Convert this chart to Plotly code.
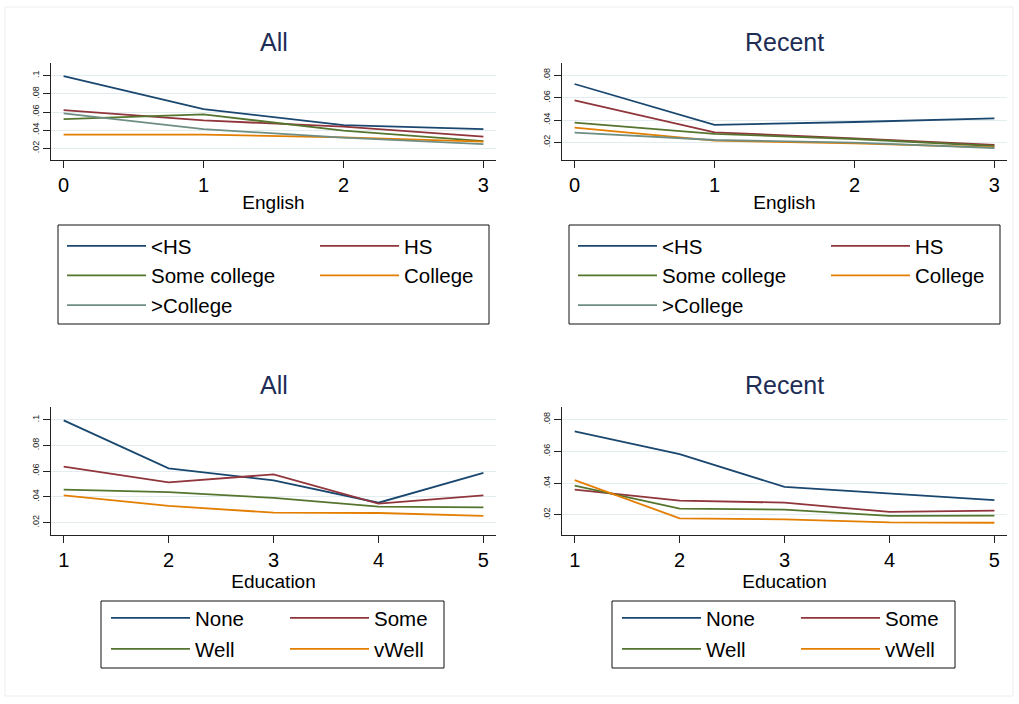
import plotly.graph_objects as go

W, H = 1019, 704

english = [0, 1, 2, 3]
education = [1, 2, 3, 4, 5]

eng_series = ["<HS", "HS", "Some college", "College", ">College"]
all_eng = {
    "<HS": [0.0995, 0.0632, 0.0456, 0.0412],
    "HS": [0.0621, 0.0508, 0.0438, 0.0328],
    "Some college": [0.0522, 0.0574, 0.0394, 0.0280],
    "College": [0.0350, 0.0350, 0.0320, 0.0273],
    ">College": [0.0585, 0.0412, 0.0317, 0.0247],
}
recent_eng = {
    "<HS": [0.0725, 0.0358, 0.0383, 0.0416],
    "HS": [0.0578, 0.0290, 0.0236, 0.0176],
    "Some college": [0.0377, 0.0277, 0.0230, 0.0167],
    "College": [0.0332, 0.0215, 0.0190, 0.0155],
    ">College": [0.0287, 0.0221, 0.0197, 0.0149],
}

edu_series = ["None", "Some", "Well", "vWell"]
all_edu = {
    "None": [0.0995, 0.0622, 0.0529, 0.0355, 0.0586],
    "Some": [0.0635, 0.0513, 0.0575, 0.0348, 0.0412],
    "Well": [0.0456, 0.0438, 0.0392, 0.0324, 0.0319],
    "vWell": [0.0412, 0.0330, 0.0278, 0.0275, 0.0252],
}
recent_edu = {
    "None": [0.0726, 0.0583, 0.0377, 0.0337, 0.0293],
    "Some": [0.0360, 0.0290, 0.0278, 0.0219, 0.0227],
    "Well": [0.0385, 0.0240, 0.0234, 0.0194, 0.0196],
    "vWell": [0.0419, 0.0179, 0.0173, 0.0154, 0.0151],
}

ytick_all = [0.02, 0.04, 0.06, 0.08, 0.1]
ytick_all_text = [".02", ".04", ".06", ".08", ".1"]
ytick_rec = [0.02, 0.04, 0.06, 0.08]
ytick_rec_text = [".02", ".04", ".06", ".08"]

colors = ["#1a476f", "#90353b", "#55752f", "#e37e00", "#6e8e84"]

FONT = "Liberation Sans, Arial, sans-serif"

def px_x(p):
    return p / W

def px_y(p):
    return 1 - p / H

fig = go.Figure()

panels = [
    ("", all_eng, eng_series, english),
    ("2", recent_eng, eng_series, english),
    ("3", all_edu, edu_series, education),
    ("4", recent_edu, edu_series, education),
]

for pi, (suf, data, series, xs) in enumerate(panels):
    for si, name in enumerate(series):
        col = si % 2
        k = pi * 2 + col
        legname = "legend" + (str(k + 1) if k > 0 else "")
        fig.add_trace(go.Scatter(
            x=xs, y=data[name], name=name, mode="lines",
            line=dict(color=colors[si], width=1.8),
            xaxis="x" + suf, yaxis="y" + suf,
            legend=legname, legendgroup=f"p{pi}s{si}",
            hoverinfo="x+y+name",
        ))

def xaxis_cfg(dom, rng, tickvals, title, anchor):
    return dict(
        domain=dom, range=rng, tickvals=tickvals, ticktext=[str(v) for v in tickvals],
        showline=True, linecolor="#222", linewidth=1, mirror=False,
        ticks="outside", ticklen=7, tickcolor="#222", tickwidth=1,
        showgrid=False, zeroline=False, anchor=anchor,
        tickfont=dict(family=FONT, size=20, color="#000"),
        title=dict(text=title, font=dict(family=FONT, size=19, color="#000"), standoff=0),
    )

def yaxis_cfg(dom, rng, tv, tt, anchor):
    return dict(
        domain=dom, range=rng, tickvals=tv, ticktext=tt, tickangle=-90,
        showline=True, linecolor="#222", linewidth=1,
        ticks="outside", ticklen=7, tickcolor="#222", tickwidth=1,
        showgrid=True, gridcolor="#e3edf0", gridwidth=1, zeroline=False, anchor=anchor,
        tickfont=dict(family=FONT, size=9, color="#222"),
    )

xl = [px_x(51), px_x(496)]
xr = [px_x(562), px_x(1007)]
yt = [px_y(160), px_y(63)]
yb = [px_y(535), px_y(407)]

fig.update_layout(
    xaxis=xaxis_cfg(xl, [-0.09, 3.09], english, "English", "y"),
    yaxis=yaxis_cfg(yt, [0.0071, 0.114], ytick_all, ytick_all_text, "x"),
    xaxis2=xaxis_cfg(xr, [-0.09, 3.09], english, "English", "y2"),
    yaxis2=yaxis_cfg(yt, [0.0041, 0.0914], ytick_rec, ytick_rec_text, "x2"),
    xaxis3=xaxis_cfg(xl, [0.879, 5.12], education, "Education", "y3"),
    yaxis3=yaxis_cfg(yb, [0.0104, 0.1099], ytick_all, ytick_all_text, "x3"),
    xaxis4=xaxis_cfg(xr, [0.879, 5.12], education, "Education", "y4"),
    yaxis4=yaxis_cfg(yb, [0.0074, 0.088], ytick_rec, ytick_rec_text, "x4"),
)

# Legends: two vertical columns per panel, inside a framed box
leg_common = dict(orientation="v", bgcolor="rgba(0,0,0,0)", borderwidth=0,
                  font=dict(family=FONT, size=20.5, color="#000"), itemwidth=79,
                  xanchor="left", yanchor="top", traceorder="grouped")
# box x0, y0, x1, y1, col1 x, col2 x, group gap, legend top
leg_boxes = [
    (58, 225, 489, 324, 62, 315, 0, 226),
    (569, 225, 1000, 324, 573, 826, 0, 226),
    (101, 601, 444, 668, 106, 285, 1.5, 598),
    (612, 601, 955, 668, 617, 796, 1.5, 598),
]
layout_leg = {}
for pi, (x0, y0, x1, y1, c1, c2, gap, ly) in enumerate(leg_boxes):
    for col, cx in enumerate([c1, c2]):
        k = pi * 2 + col
        key = "legend" + (str(k + 1) if k > 0 else "")
        cfg = dict(leg_common)
        cfg.update(x=px_x(cx), y=px_y(ly), tracegroupgap=gap)
        layout_leg[key] = cfg
fig.update_layout(**layout_leg)

shapes = [dict(type="rect", xref="paper", yref="paper",
               x0=px_x(b[0]), x1=px_x(b[2]), y0=px_y(b[3]), y1=px_y(b[1]),
               line=dict(color="#111", width=1), fillcolor="rgba(0,0,0,0)", layer="below")
          for b in leg_boxes]
shapes.append(dict(type="rect", xref="paper", yref="paper",
                   x0=px_x(5), x1=px_x(1013), y0=px_y(696), y1=px_y(7),
                   line=dict(color="#eeeeee", width=1), fillcolor="rgba(0,0,0,0)", layer="below"))

titles = [("All", 273.5, 42), ("Recent", 784.5, 42), ("All", 273.5, 385), ("Recent", 784.5, 385)]
annotations = [dict(text=t, x=px_x(cx), y=px_y(cy), xref="paper", yref="paper",
                    xanchor="center", yanchor="middle", showarrow=False,
                    font=dict(family=FONT, size=25, color="#1e2d56"))
               for t, cx, cy in titles]

fig.update_layout(
    width=W, height=H, autosize=False,
    margin=dict(l=0, r=0, t=0, b=0),
    paper_bgcolor="white", plot_bgcolor="white",
    shapes=shapes, annotations=annotations,
    showlegend=True,
)

fig.write_html(
    "out.html",
    config={"displayModeBar": False},
    post_script="document.body.style.margin='0';document.body.style.overflow='hidden';",
)
